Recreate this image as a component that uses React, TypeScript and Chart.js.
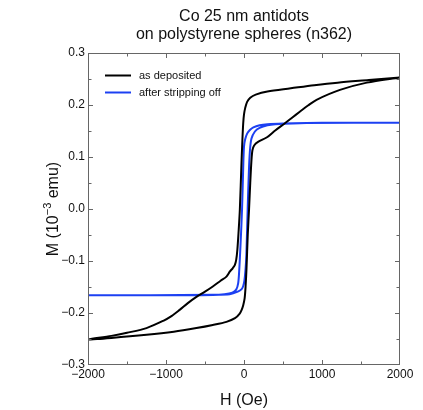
import React, { useEffect, useRef } from "react";
import { Chart, registerables } from "chart.js";

Chart.register(...registerables);

const FONT = "'Liberation Sans', Arial, Helvetica, sans-serif";

const titleLines = ["Co 25 nm antidots", "on polystyrene spheres (n362)"];
const xAxisTitle = "H (Oe)";
const yAxisTitleParts = ["M (10", "\u22123", " emu)"];
const seriesLabels = ["as deposited", "after stripping off"];
const seriesColors = ["#000000", "#1c40f2"];

// As deposited: descending branch (+2000 -> -2000) then ascending branch (-2000 -> +2000)
const hAsDeposited = [
  2000, 1600, 1200, 900, 600, 300, 150, 80, 40, 15, 0, -10, -20, -32, -53, -70, -85, -100, -118, -145, -180,
  -225, -300, -400, -500, -610, -720, -825, -930, -1035, -1250, -1500, -1700, -2000,
  -1700, -1250, -900, -610, -400, -225, -115, -55, -30, -10, 8, 20, 32, 48, 65, 80, 95, 108, 130, 180, 295,
  400, 525, 620, 715, 820, 930, 1230, 1575, 2000,
];
const mAsDeposited = [
  0.253, 0.248, 0.243, 0.238, 0.232, 0.226, 0.220, 0.214, 0.206, 0.194, 0.182, 0.165, 0.135, 0.09, 0.0,
  -0.045, -0.078, -0.098, -0.108, -0.114, -0.120, -0.130, -0.138, -0.149, -0.159, -0.169, -0.181, -0.194,
  -0.206, -0.215, -0.229, -0.238, -0.244, -0.251,
  -0.248, -0.242, -0.236, -0.229, -0.223, -0.217, -0.210, -0.201, -0.194, -0.185, -0.172, -0.150, -0.115,
  -0.05, 0.0, 0.05, 0.092, 0.113, 0.122, 0.129, 0.138, 0.151, 0.165, 0.176, 0.187, 0.199, 0.210, 0.229,
  0.243, 0.253,
];

// After stripping off: descending branch then ascending branch
const hStripped = [
  2000, 1200, 800, 500, 300, 200, 120, 75, 40, 15, 0, -10, -25, -45, -62, -75, -100, -150, -250, -400, -800,
  -2000,
  -1200, -400, -183, -80, -30, -10, 5, 20, 30, 47, 62, 75, 95, 140, 200, 300, 400, 800, 2000,
];
const mStripped = [
  0.166, 0.166, 0.1655, 0.1645, 0.163, 0.161, 0.157, 0.152, 0.145, 0.134, 0.12, 0.08, 0.0, -0.07, -0.12,
  -0.143, -0.155, -0.161, -0.164, -0.1655, -0.166, -0.166,
  -0.166, -0.165, -0.164, -0.159, -0.154, -0.148, -0.138, -0.115, -0.09, 0.0, 0.07, 0.11, 0.135, 0.149,
  0.156, 0.161, 0.163, 0.1655, 0.166,
];

const toPoints = (hs: number[], ms: number[]) => hs.map((h, i) => ({ x: h, y: ms[i] }));

const fmtY = (v: number) => (Math.abs(v) < 1e-9 ? "0.0" : v.toFixed(1).replace("-", "\u2212"));
const fmtX = (v: number) => (Math.abs(v) < 1e-9 ? "0" : String(Math.round(v)).replace("-", "\u2212"));

const framePlugin = {
  id: "frameTicks",
  afterDatasetsDraw(chart: any) {
    const { ctx, chartArea } = chart;
    const { left, right, top, bottom } = chartArea;
    const xs = chart.scales.x;
    const ys = chart.scales.y;
    ctx.save();
    ctx.strokeStyle = "#666666";
    ctx.lineWidth = 1;
    const L = Math.round(left) + 0.5;
    const R = Math.round(right) - 0.5;
    const T = Math.round(top) + 0.5;
    const B = Math.round(bottom) - 0.5;
    ctx.strokeRect(L, T, R - L, B - T);
    const major = 4.5;
    const minor = 3;
    const xt = xs.ticks.map((t: any) => t.value);
    ctx.beginPath();
    xt.forEach((v: number, i: number) => {
      const px = Math.round(xs.getPixelForValue(v)) + 0.5;
      if (i > 0 && i < xt.length - 1) {
        ctx.moveTo(px, B);
        ctx.lineTo(px, B - major);
        ctx.moveTo(px, T);
        ctx.lineTo(px, T + major);
      }
      if (i < xt.length - 1) {
        const mv = (v + xt[i + 1]) / 2;
        const mp = Math.round(xs.getPixelForValue(mv)) + 0.5;
        ctx.moveTo(mp, B);
        ctx.lineTo(mp, B - minor);
        ctx.moveTo(mp, T);
        ctx.lineTo(mp, T + minor);
      }
    });
    const yt = ys.ticks.map((t: any) => t.value);
    yt.forEach((v: number, i: number) => {
      const py = Math.round(ys.getPixelForValue(v)) + 0.5;
      if (i > 0 && i < yt.length - 1) {
        ctx.moveTo(L, py);
        ctx.lineTo(L + major, py);
        ctx.moveTo(R, py);
        ctx.lineTo(R - major, py);
      }
      if (i < yt.length - 1) {
        const mv = (v + yt[i + 1]) / 2;
        const mp = Math.round(ys.getPixelForValue(mv)) + 0.5;
        ctx.moveTo(L, mp);
        ctx.lineTo(L + minor, mp);
        ctx.moveTo(R, mp);
        ctx.lineTo(R - minor, mp);
      }
    });
    ctx.stroke();

    // legend inside plot
    ctx.font = `11px ${FONT}`;
    ctx.textBaseline = "middle";
    ctx.textAlign = "left";
    chart.data.datasets.forEach((ds: any, i: number) => {
      const y = top + 22.5 + i * 17;
      ctx.strokeStyle = ds.borderColor;
      ctx.lineWidth = 2;
      ctx.beginPath();
      ctx.moveTo(left + 17, y);
      ctx.lineTo(left + 43, y);
      ctx.stroke();
      ctx.fillStyle = "#111111";
      ctx.fillText(ds.label, left + 51, y);
    });
    ctx.restore();
  },
  afterDraw(chart: any) {
    const { ctx, chartArea } = chart;
    const { left, right, top, bottom } = chartArea;
    const cx = (left + right) / 2;
    ctx.save();
    ctx.fillStyle = "#111111";
    ctx.font = `16px ${FONT}`;
    ctx.textAlign = "center";
    ctx.textBaseline = "alphabetic";
    ctx.fillText(titleLines[0], cx, 21);
    ctx.fillText(titleLines[1], cx, 39);

    // y axis title with superscript
    const cy = (top + bottom) / 2;
    ctx.translate(57.5, cy);
    ctx.rotate(-Math.PI / 2);
    const big = `16px ${FONT}`;
    const small = `11px ${FONT}`;
    ctx.font = big;
    const w0 = ctx.measureText(yAxisTitleParts[0]).width;
    const w2 = ctx.measureText(yAxisTitleParts[2]).width;
    ctx.font = small;
    const w1 = ctx.measureText(yAxisTitleParts[1]).width;
    let x0 = -(w0 + w1 + w2) / 2;
    ctx.textAlign = "left";
    ctx.font = big;
    ctx.fillText(yAxisTitleParts[0], x0, 0);
    x0 += w0;
    ctx.font = small;
    ctx.fillText(yAxisTitleParts[1], x0, -6.5);
    x0 += w1;
    ctx.font = big;
    ctx.fillText(yAxisTitleParts[2], x0, 0);
    ctx.restore();
  },
};

export default function App() {
  const ref = useRef<HTMLCanvasElement | null>(null);
  useEffect(() => {
    if (!ref.current) return;
    Chart.defaults.font.family = FONT;
    const chart = new Chart(ref.current, {
      type: "scatter",
      data: {
        datasets: [
          {
            label: seriesLabels[0],
            data: toPoints(hAsDeposited, mAsDeposited),
            borderColor: seriesColors[0],
            backgroundColor: seriesColors[0],
            showLine: true,
            borderWidth: 2,
            pointRadius: 0,
            tension: 0.3,
            borderJoinStyle: "round",
          },
          {
            label: seriesLabels[1],
            data: toPoints(hStripped, mStripped),
            borderColor: seriesColors[1],
            backgroundColor: seriesColors[1],
            showLine: true,
            borderWidth: 2,
            pointRadius: 0,
            tension: 0.3,
            borderJoinStyle: "round",
          },
        ],
      },
      options: {
        animation: false,
        responsive: false,
        maintainAspectRatio: false,
        layout: { padding: { top: 53, right: 23, left: 0, bottom: 0 } },
        plugins: { legend: { display: false }, tooltip: { enabled: false }, title: { display: false } },
        scales: {
          x: {
            type: "linear",
            min: -2000,
            max: 2000,
            afterFit: (s: any) => {
              s.height = 45;
            },
            grid: { display: false, drawTicks: false },
            border: { display: false },
            ticks: {
              stepSize: 1000,
              padding: 2,
              color: "#111111",
              font: { size: 12, family: FONT },
              callback: (v: any) => fmtX(Number(v)),
              maxRotation: 0,
            },
            title: {
              display: true,
              text: xAxisTitle,
              color: "#111111",
              font: { size: 16, family: FONT, lineHeight: "18px" },
              padding: { top: 0, bottom: 0 },
            },
          },
          y: {
            type: "linear",
            min: -0.3,
            max: 0.3,
            afterFit: (s: any) => {
              s.width = 88;
            },
            grid: { display: false, drawTicks: false },
            border: { display: false },
            ticks: {
              stepSize: 0.1,
              padding: 3,
              color: "#111111",
              font: { size: 12, family: FONT },
              callback: (v: any) => fmtY(Number(v)),
            },
          },
        },
      },
      plugins: [framePlugin],
    } as any);
    return () => chart.destroy();
  }, []);
  return (
    <div style={{ position: "fixed", left: 0, top: 0, width: 423, height: 410 }}>
      <canvas ref={ref} width={423} height={410} style={{ width: 423, height: 410, display: "block" }} />
    </div>
  );
}
